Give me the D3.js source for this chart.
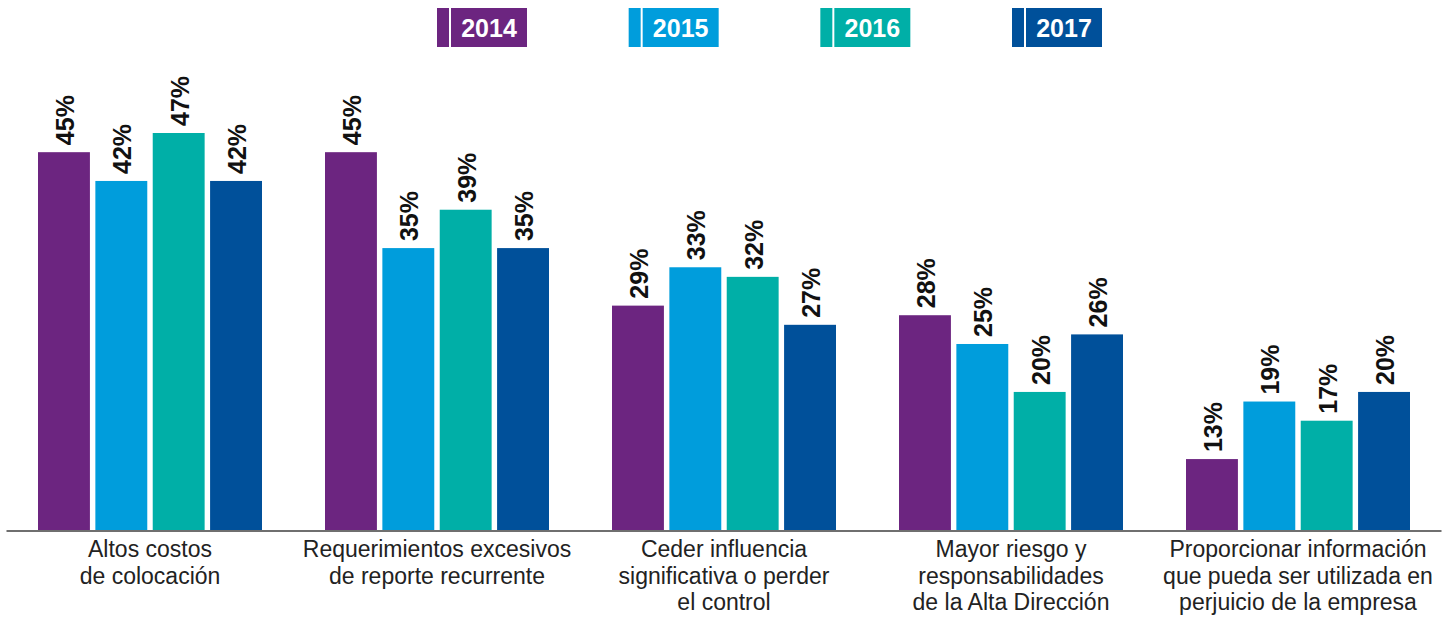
<!DOCTYPE html>
<html>
<head>
<meta charset="utf-8">
<script src="https://cdn.jsdelivr.net/npm/d3@7"></script>
<style>
  html, body { margin: 0; padding: 0; background: #fff; }
  svg { display: block; }
  text { font-family: "Liberation Sans", Arial, sans-serif; }
</style>
</head>
<body>
<svg id="chart" width="1450" height="618"></svg>
<script>
// Barriers reported by companies, share of respondents per year
const categories = [
  ["Altos costos", "de colocación"],
  ["Requerimientos excesivos", "de reporte recurrente"],
  ["Ceder influencia", "significativa o perder", "el control"],
  ["Mayor riesgo y", "responsabilidades", "de la Alta Dirección"],
  ["Proporcionar información", "que pueda ser utilizada en", "perjuicio de la empresa"]
];
const years = ["2014", "2015", "2016", "2017"];
const values2014 = [45, 45, 29, 28, 13];
const values2015 = [42, 35, 33, 25, 19];
const values2016 = [47, 39, 32, 20, 17];
const values2017 = [42, 35, 27, 26, 20];
const colors = ["#6c2580", "#009ddc", "#00afa7", "#00509a"];

const series = [values2014, values2015, values2016, values2017];

const svg = d3.select("#chart");
const baseY = 531;

const x0 = d3.scaleBand()
  .domain(d3.range(categories.length))
  .range([6.5, 1441.5])
  .padding(0);

const x1 = d3.scaleBand()
  .domain(years)
  .range([-112, 112])
  .paddingInner(0.095)
  .paddingOuter(0);

const y = d3.scaleLinear()
  .domain([5.5, 47])
  .range([baseY, 133]);

const color = d3.scaleOrdinal().domain(years).range(colors);

// Legend: thin strip plus labelled block per year
const legendX = d3.scalePoint().domain(years).range([437, 1012]);
const legend = svg.append("g").selectAll("g")
  .data(years)
  .join("g")
  .attr("transform", d => `translate(${legendX(d)},8)`);
legend.append("rect")
  .attr("width", 12).attr("height", 39)
  .attr("fill", d => color(d));
legend.append("rect")
  .attr("x", 14).attr("width", 76).attr("height", 39)
  .attr("fill", d => color(d));
legend.append("text")
  .attr("x", 52).attr("y", 28.5)
  .attr("text-anchor", "middle")
  .attr("fill", "#fff")
  .attr("font-weight", "bold")
  .attr("font-size", 25)
  .text(d => d);

// Bars
const groups = svg.append("g").selectAll("g")
  .data(categories)
  .join("g")
  .attr("transform", (d, i) => `translate(${x0(i) + x0.bandwidth() / 2},0)`);

const cells = groups.selectAll("g")
  .data((d, i) => years.map((yr, j) => ({ year: yr, value: series[j][i] })))
  .join("g");

cells.append("rect")
  .attr("x", d => x1(d.year))
  .attr("width", x1.bandwidth())
  .attr("y", d => y(d.value))
  .attr("height", d => baseY - y(d.value))
  .attr("fill", d => color(d.year));

cells.append("text")
  .attr("transform", d =>
    `translate(${x1(d.year) + x1.bandwidth() / 2 + 1},${y(d.value) - 7}) rotate(-90)`)
  .attr("dy", "0.36em")
  .attr("text-anchor", "start")
  .attr("font-weight", "bold")
  .attr("font-size", 25)
  .attr("fill", "#111")
  .text(d => d.value + "%");

// Baseline
svg.append("line")
  .attr("x1", x0.range()[0]).attr("x2", x0.range()[1])
  .attr("y1", baseY).attr("y2", baseY)
  .attr("stroke", "#6f6f6f")
  .attr("stroke-width", 2);

// Category labels
groups.append("text")
  .attr("text-anchor", "middle")
  .attr("font-size", 23)
  .attr("fill", "#222")
  .selectAll("tspan")
  .data(d => d)
  .join("tspan")
  .attr("x", 0)
  .attr("y", (d, i) => 557 + i * 26.5)
  .text(d => d);
</script>
</body>
</html>
